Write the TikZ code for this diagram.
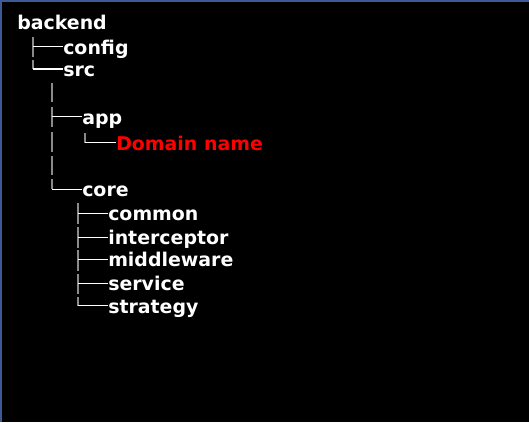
\documentclass[tikz,border=0pt]{standalone}
\usepackage{fontspec}
\setmainfont{DejaVu Sans}
\definecolor{frameblue}{HTML}{3C5A96}
\definecolor{treegray}{HTML}{8A8A8A}
\definecolor{domred}{HTML}{FF0000}
\begin{document}
\begin{tikzpicture}[x=0.75pt,y=-0.75pt,
  lbl/.style={anchor=base west,inner sep=0pt,text=white,font=\fontsize{14.2pt}{16pt}\selectfont\bfseries},
  vline/.style={draw=treegray,line width=1.5pt},
  hline/.style={draw=white,line width=0.8pt}]
\useasboundingbox (0,0) rectangle (529,422);
\fill[black] (0,0) rectangle (529,422);
\fill[frameblue] (0,0) rectangle (529,2.2);
\fill[frameblue] (0,0) rectangle (2.2,422);
% labels
\node[lbl] (backend) at (17,29.3) {backend};
\node[lbl] (config) at (63,54) {config};
\node[lbl] (src) at (63,76) {src};
\node[lbl] (app) at (82,124.2) {app};
\node[lbl,text=domred] (domain) at (116,150.2) {Domain name};
\node[lbl] (core) at (82,196.8) {core};
\node[lbl] (common) at (108,220.8) {common};
\node[lbl] (interceptor) at (108,244.8) {interceptor};
\node[lbl] (middleware) at (108,266.8) {middleware};
\node[lbl] (service) at (108,290.8) {service};
\node[lbl] (strategy) at (108,313.2) {strategy};
% level 1 trunk
\coordinate (c1) at (33,46.5);
\coordinate (c2) at (33,69);
\draw[vline] (33,37) -- (33,57);
\draw[vline] (33,60) -- (c2);
\draw[hline] (c1) -- (c1 -| config.west);
\draw[hline] (c2) -- (c2 -| src.west);
% level 2 trunk under src
\coordinate (a1) at (52,116.7);
\coordinate (a2) at (52,189.3);
\draw[vline] (52,83) -- (52,102);
\draw[vline] (52,107) -- (52,127);
\draw[vline] (52,132) -- (52,152);
\draw[vline] (52,156) -- (52,175);
\draw[vline] (52,179) -- (a2);
\draw[hline] (a1) -- (a1 -| app.west);
\draw[hline] (a2) -- (a2 -| core.west);
% under app
\coordinate (d1) at (85,142.7);
\draw[vline] (85,133) -- (d1);
\draw[hline] (d1) -- (d1 -| domain.west);
% under core
\coordinate (k1) at (78,213.3);
\coordinate (k2) at (78,237.3);
\coordinate (k3) at (78,259.3);
\coordinate (k4) at (78,283.3);
\coordinate (k5) at (78,305.7);
\draw[vline] (78,203) -- (78,224);
\draw[vline] (78,227) -- (78,248);
\draw[vline] (78,250) -- (78,271);
\draw[vline] (78,274) -- (78,294);
\draw[vline] (78,297) -- (k5);
\draw[hline] (k1) -- (k1 -| common.west);
\draw[hline] (k2) -- (k2 -| interceptor.west);
\draw[hline] (k3) -- (k3 -| middleware.west);
\draw[hline] (k4) -- (k4 -| service.west);
\draw[hline] (k5) -- (k5 -| strategy.west);
\end{tikzpicture}
\end{document}
